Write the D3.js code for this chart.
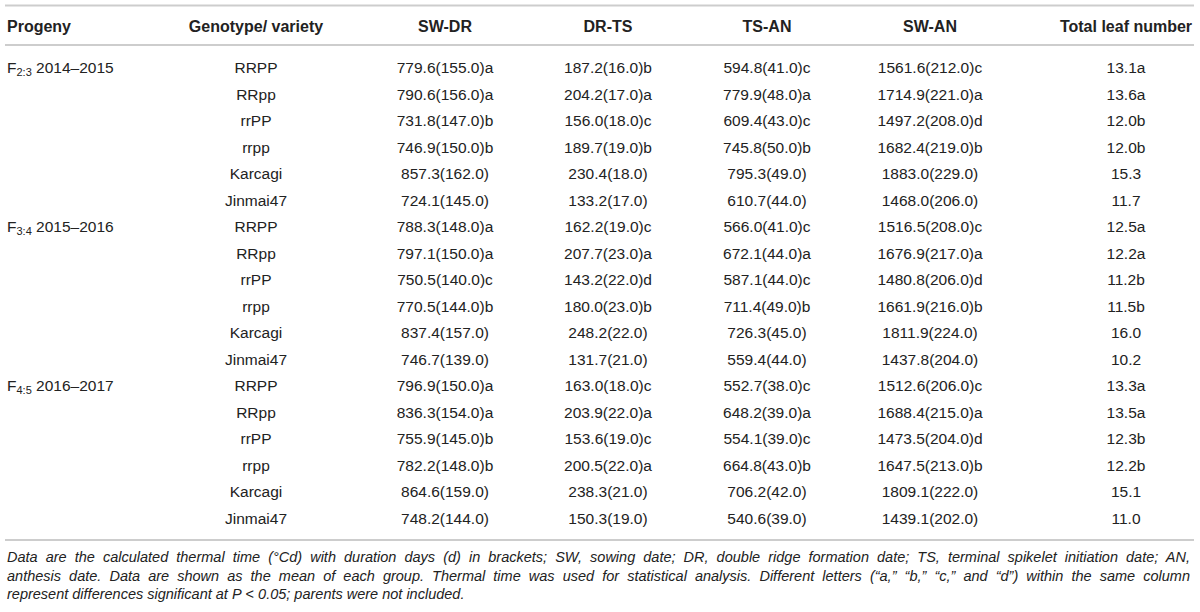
<!DOCTYPE html>
<html>
<head>
<meta charset="utf-8">
<script src="https://cdn.jsdelivr.net/npm/d3@7/dist/d3.min.js"></script>
<style>
  html, body { margin: 0; padding: 0; background: #fff; }
  svg { display: block; }
</style>
</head>
<body>
<div id="chart"></div>
<script>
// ---------------- data ----------------
const columnHeaders = ["Progeny", "Genotype/ variety", "SW-DR", "DR-TS", "TS-AN", "SW-AN", "Total leaf number"];
const progenyGen = ["2:3", "3:4", "4:5"];
const progenyYears = ["2014–2015", "2015–2016", "2016–2017"];
const genotypes = ["RRPP", "RRpp", "rrPP", "rrpp", "Karcagi", "Jinmai47"];

const swdr = [
  "779.6(155.0)a", "790.6(156.0)a", "731.8(147.0)b", "746.9(150.0)b", "857.3(162.0)", "724.1(145.0)",
  "788.3(148.0)a", "797.1(150.0)a", "750.5(140.0)c", "770.5(144.0)b", "837.4(157.0)", "746.7(139.0)",
  "796.9(150.0)a", "836.3(154.0)a", "755.9(145.0)b", "782.2(148.0)b", "864.6(159.0)", "748.2(144.0)"
];
const drts = [
  "187.2(16.0)b", "204.2(17.0)a", "156.0(18.0)c", "189.7(19.0)b", "230.4(18.0)", "133.2(17.0)",
  "162.2(19.0)c", "207.7(23.0)a", "143.2(22.0)d", "180.0(23.0)b", "248.2(22.0)", "131.7(21.0)",
  "163.0(18.0)c", "203.9(22.0)a", "153.6(19.0)c", "200.5(22.0)a", "238.3(21.0)", "150.3(19.0)"
];
const tsan = [
  "594.8(41.0)c", "779.9(48.0)a", "609.4(43.0)c", "745.8(50.0)b", "795.3(49.0)", "610.7(44.0)",
  "566.0(41.0)c", "672.1(44.0)a", "587.1(44.0)c", "711.4(49.0)b", "726.3(45.0)", "559.4(44.0)",
  "552.7(38.0)c", "648.2(39.0)a", "554.1(39.0)c", "664.8(43.0)b", "706.2(42.0)", "540.6(39.0)"
];
const swan = [
  "1561.6(212.0)c", "1714.9(221.0)a", "1497.2(208.0)d", "1682.4(219.0)b", "1883.0(229.0)", "1468.0(206.0)",
  "1516.5(208.0)c", "1676.9(217.0)a", "1480.8(206.0)d", "1661.9(216.0)b", "1811.9(224.0)", "1437.8(204.0)",
  "1512.6(206.0)c", "1688.4(215.0)a", "1473.5(204.0)d", "1647.5(213.0)b", "1809.1(222.0)", "1439.1(202.0)"
];
const leafNumber = [
  "13.1a", "13.6a", "12.0b", "12.0b", "15.3", "11.7",
  "12.5a", "12.2a", "11.2b", "11.5b", "16.0", "10.2",
  "13.3a", "13.5a", "12.3b", "12.2b", "15.1", "11.0"
];
const footnoteLines = [
  "Data are the calculated thermal time (°Cd) with duration days (d) in brackets; SW, sowing date; DR, double ridge formation date; TS, terminal spikelet initiation date; AN,",
  "anthesis date. Data are shown as the mean of each group. Thermal time was used for statistical analysis. Different letters (“a,” “b,” “c,” and “d”) within the same column",
  "represent differences significant at P < 0.05; parents were not included."
];

// ---------------- layout ----------------
const W = 1200, H = 612;
const FONT = "'Liberation Sans', Arial, Helvetica, sans-serif";
const TEXT = "#222222";
const RULE = "#cdcdcd";

const nRows = progenyGen.length * genotypes.length;
const rows = d3.range(nRows).map(i => ({
  i,
  progenyIdx: i % genotypes.length === 0 ? Math.floor(i / genotypes.length) : -1,
  genotype: genotypes[i % genotypes.length],
  cells: [swdr[i], drts[i], tsan[i], swan[i], leafNumber[i]]
}));

const colKeys = columnHeaders.slice(1);
const colX = d3.scaleOrdinal().domain(colKeys).range([256, 445, 608, 767, 930, 1126]);
const rowY = d3.scaleLinear().domain([0, nRows - 1]).range([67.5, 518]);

const svg = d3.select("#chart").append("svg")
  .attr("width", W).attr("height", H)
  .style("font-family", FONT);

// rules
const rules = [5.5, 45, 540];
svg.selectAll("line.rule").data(rules).join("line")
  .attr("class", "rule")
  .attr("x1", 5).attr("x2", 1194)
  .attr("y1", d => d).attr("y2", d => d)
  .attr("stroke", RULE).attr("stroke-width", 2);

// header
const headerBaseline = 32;
svg.append("text")
  .attr("x", 7).attr("y", headerBaseline)
  .attr("font-size", 16).attr("font-weight", "bold").attr("fill", TEXT)
  .text(columnHeaders[0]);
svg.selectAll("text.hdr").data(colKeys).join("text")
  .attr("class", "hdr")
  .attr("x", d => colX(d)).attr("y", headerBaseline)
  .attr("text-anchor", "middle")
  .attr("font-size", 16).attr("font-weight", "bold").attr("fill", TEXT)
  .text(d => d);

// body rows
const rowG = svg.selectAll("g.row").data(rows).join("g")
  .attr("class", "row")
  .attr("transform", d => `translate(0,${rowY(d.i) + 5.6})`);

rowG.filter(d => d.progenyIdx >= 0).append("text")
  .attr("x", 7).attr("y", 0)
  .attr("font-size", 15.5).attr("fill", TEXT)
  .each(function(d) {
    const t = d3.select(this);
    t.append("tspan").text("F");
    t.append("tspan").attr("font-size", 11).attr("dy", 3).text(progenyGen[d.progenyIdx]);
    t.append("tspan").attr("dy", -3).text("\u00a0" + progenyYears[d.progenyIdx]);
  });

rowG.append("text")
  .attr("x", colX(colKeys[0])).attr("y", 0)
  .attr("text-anchor", "middle")
  .attr("font-size", 15.5).attr("fill", TEXT)
  .text(d => d.genotype);

rowG.selectAll("text.cell").data(d => d.cells.map((v, k) => ({ v, key: colKeys[k + 1] }))).join("text")
  .attr("class", "cell")
  .attr("x", c => colX(c.key)).attr("y", 0)
  .attr("text-anchor", "middle")
  .attr("font-size", 15.5).attr("fill", TEXT)
  .text(c => c.v);

// footnote (first two lines justified)
const noteY = d3.scaleLinear().domain([0, 2]).range([562, 599]);
const noteLeft = 7, noteRight = 1190;
svg.selectAll("text.note").data(footnoteLines).join("text")
  .attr("class", "note")
  .attr("x", noteLeft).attr("y", (d, i) => noteY(i))
  .attr("font-size", 14.5).attr("font-style", "italic").attr("fill", TEXT)
  .each(function(d, i) {
    const t = d3.select(this);
    const m = d.indexOf("P < 0.05");
    if (m >= 0) {
      t.append("tspan").text(d.slice(0, m));
      t.append("tspan").text("P");
      t.append("tspan").attr("font-style", "normal").text(" < ");
      t.append("tspan").text(d.slice(m + 4));
    } else {
      t.text(d);
    }
    if (i < footnoteLines.length - 1) {
      const natural = this.getComputedTextLength();
      const spaces = (d.match(/ /g) || []).length;
      const extra = (noteRight - noteLeft - natural) / spaces;
      if (extra > 0) t.attr("word-spacing", extra);
    }
  });
</script>
</body>
</html>
